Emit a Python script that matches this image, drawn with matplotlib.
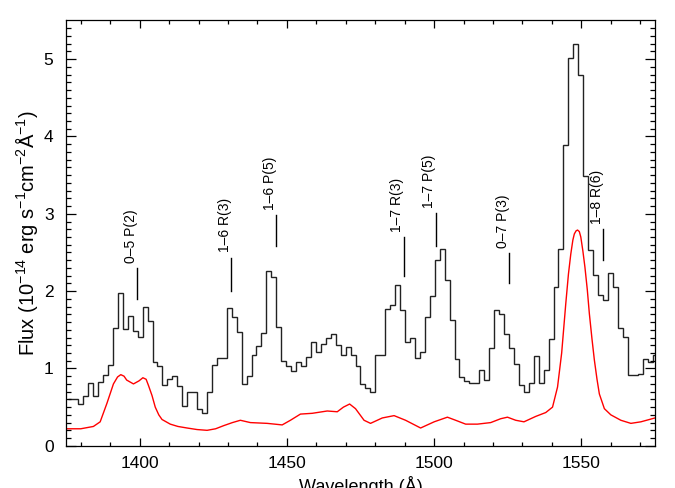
import numpy as np
import matplotlib.pyplot as plt

plt.rcParams['font.family'] = ['Liberation Sans', 'DejaVu Sans']
plt.rcParams['mathtext.fontset'] = 'custom'
plt.rcParams['mathtext.rm'] = 'Liberation Sans'
plt.rcParams['mathtext.it'] = 'Liberation Sans:italic'

# ----------------------------
# DATA
# ----------------------------

# observed spectrum, binned: first bin edge and bin width in Angstrom
bin_start = 1375.8
bin_width = 1.681
flux = [0.60, 0.61, 0.54, 0.65, 0.81, 0.64, 0.83, 0.91, 1.05, 1.52,
        1.97, 1.51, 1.68, 1.49, 1.41, 1.80, 1.61, 1.09, 1.03, 0.79,
        0.87, 0.90, 0.77, 0.51, 0.69, 0.69, 0.48, 0.42, 0.69, 1.04,
        1.14, 1.14, 1.78, 1.66, 1.47, 0.80, 0.90, 1.18, 1.29,
        1.46, 2.26, 2.18, 1.53, 1.10, 1.03, 0.97, 1.09, 1.03, 1.15,
        1.34, 1.21, 1.31, 1.40, 1.44, 1.30, 1.17, 1.28, 1.17, 1.03,
        0.80, 0.75, 0.69, 1.17, 1.17, 1.77, 1.82, 2.08, 1.76, 1.34,
        1.39, 1.14, 1.21, 1.66, 1.94, 2.40, 2.55, 2.14,
        1.63, 1.12, 0.89, 0.84, 0.81, 0.81, 0.98, 0.85, 1.27, 1.76,
        1.70, 1.45, 1.27, 1.06, 0.78, 0.69, 0.81, 1.16, 0.81, 0.98,
        1.38, 2.05, 2.55, 3.89, 5.02, 5.19, 4.80, 3.49, 2.53, 2.21,
        1.95, 1.89, 2.24, 2.05, 1.52, 1.41, 0.92, 0.91, 0.93, 1.12,
        1.08, 1.17]

# model curve (red)
model_wave = [1375, 1380, 1384.3, 1386.6, 1388.9, 1391.1, 1392.5, 1393.6, 1394.7,
              1395.6, 1397.9, 1399.8, 1401.1, 1402.2, 1403.0, 1404.2, 1405.3,
              1406.5, 1407.6, 1410.4, 1413.0, 1416.1, 1419.5, 1422.9, 1425.8,
              1428.5, 1431.5, 1434.2, 1437.6, 1443.3, 1448.4, 1451.2, 1454.6,
              1458.6, 1463.7, 1467.1, 1469.2, 1471.3, 1473.3, 1476.2, 1478.4,
              1482.4, 1486.4, 1490.3, 1495.4, 1500.0, 1504.5, 1507.3, 1510.7,
              1514.7, 1519.2, 1522.6, 1524.9, 1527.7, 1530.5, 1534.5, 1537.9,
              1540.2, 1541.9, 1543.3, 1544.7, 1545.6, 1546.4, 1547.1, 1547.6,
              1548.2, 1548.7, 1549.3, 1549.8, 1550.5, 1551.2, 1552.0, 1552.7,
              1553.6, 1554.4, 1555.3, 1556.1, 1557.8, 1560.0, 1563.4, 1566.8,
              1570.2, 1575]
model_flux = [0.22, 0.22, 0.25, 0.31, 0.55, 0.80, 0.89, 0.92, 0.90,
              0.85, 0.80, 0.84, 0.88, 0.86, 0.78, 0.65, 0.50,
              0.40, 0.34, 0.28, 0.25, 0.23, 0.21, 0.20, 0.22,
              0.26, 0.30, 0.33, 0.30, 0.29, 0.27, 0.33, 0.41,
              0.42, 0.45, 0.44, 0.50, 0.54, 0.48, 0.33, 0.29,
              0.36, 0.39, 0.33, 0.23, 0.31, 0.37, 0.33, 0.28,
              0.28, 0.30, 0.35, 0.37, 0.33, 0.31, 0.38, 0.43,
              0.50, 0.76, 1.20, 1.84, 2.22, 2.48, 2.66, 2.74,
              2.78, 2.79, 2.77, 2.70, 2.52, 2.31, 2.02, 1.71,
              1.38, 1.11, 0.86, 0.67, 0.48, 0.40, 0.33, 0.29,
              0.31, 0.36]

# H2 line identifications
line_names = ["0\u20135 P(2)", "1\u20136 R(3)", "1\u20136 P(5)", "1\u20137 R(3)",
              "1\u20137 P(5)", "0\u20137 P(3)", "1\u20138 R(6)"]
line_waves = [1399.0, 1431.1, 1446.4, 1489.6, 1500.5, 1525.4, 1557.4]
line_low = [1.90, 2.00, 2.59, 2.19, 2.59, 2.10, 2.40]
line_high = [2.30, 2.43, 2.98, 2.70, 3.01, 2.49, 2.80]

# ----------------------------
# PLOT
# ----------------------------
fig = plt.figure(figsize=(6.75, 4.88), dpi=100)
ax = fig.add_axes([0.0978, 0.0865, 0.8726, 0.8715])

edges = bin_start + bin_width * np.arange(len(flux) + 1)
ax.stairs(flux, edges, baseline=None, color='#222222', linewidth=1.0)
ax.plot(model_wave, model_flux, color='red', linewidth=1.0)

for name, w, lo, hi in zip(line_names, line_waves, line_low, line_high):
    ax.plot([w, w], [lo, hi], color='black', linewidth=1.0)
    ax.text(w + 0.3, hi + 0.07, name, rotation=90, ha='right', va='bottom',
            fontsize=10)

ax.set_xlim(1375, 1575)
ax.set_ylim(0, 5.5)
ax.set_xticks([1400, 1450, 1500, 1550])
ax.set_xticks(np.arange(1380, 1575, 10), minor=True)
ax.set_yticks([0, 1, 2, 3, 4, 5])
ax.set_yticks(np.arange(0, 5.5, 0.1), minor=True)

ax.tick_params(which='both', direction='in', top=True, right=True, width=0.9)
ax.tick_params(axis='x', which='major', length=6, pad=7, labelsize=12.5)
ax.tick_params(axis='x', which='minor', length=3)
ax.tick_params(axis='y', which='major', length=7.5, pad=9, labelsize=12.5)
ax.tick_params(axis='y', which='minor', length=3.5)
for s in ax.spines.values():
    s.set_linewidth(0.9)

ax.set_xlabel("Wavelength (\u00c5)", fontsize=13, labelpad=4)
ax.set_ylabel("Flux (10$^{-14}$ erg s$^{-1}$cm$^{-2}$\u00c5$^{-1}$)", fontsize=14.5,
              labelpad=3)

fig.savefig("out.png", dpi=100)
